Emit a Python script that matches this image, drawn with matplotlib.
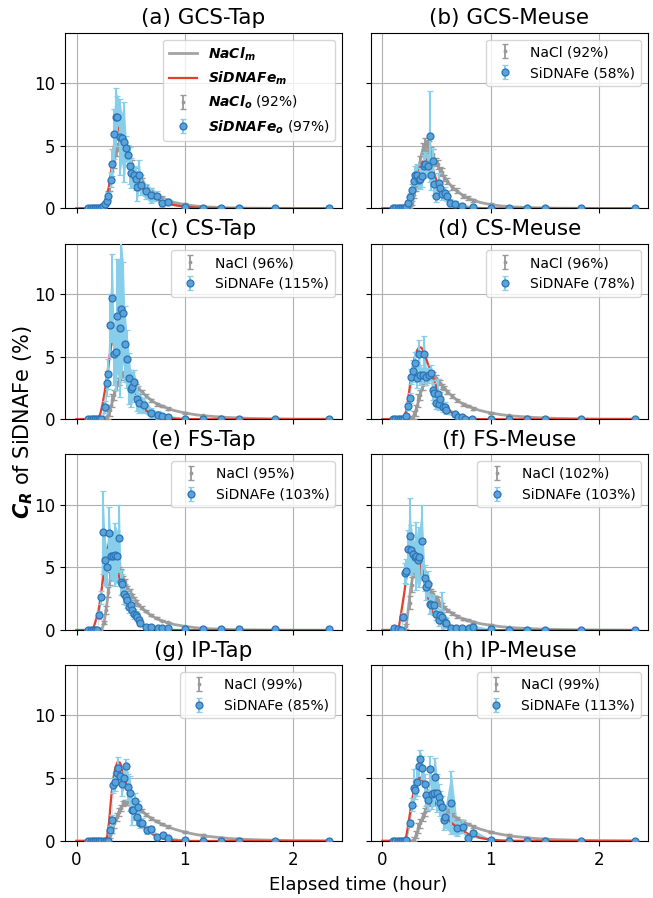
import matplotlib
matplotlib.use('Agg')
import matplotlib.pyplot as plt
import numpy as np

# ---------------- data ----------------
titles = ['(a) GCS-Tap', '(b) GCS-Meuse', '(c) CS-Tap', '(d) CS-Meuse',
          '(e) FS-Tap', '(f) FS-Meuse', '(g) IP-Tap', '(h) IP-Meuse']
nacl_pct = [92, 92, 96, 96, 95, 102, 99, 99]
si_pct = [97, 58, 115, 78, 103, 103, 85, 113]

# model time grid (hour)
t_model = [0.00, 0.10, 0.15, 0.20, 0.22, 0.24, 0.26, 0.28, 0.30, 0.32, 0.34, 0.36,
           0.38, 0.40, 0.42, 0.44, 0.46, 0.48, 0.50, 0.53, 0.56, 0.60, 0.65, 0.70,
           0.75, 0.80, 0.90, 1.00, 1.10, 1.20, 1.40, 1.60, 1.80, 2.00, 2.35]

# NaCl model curves
nacl_m_ab = [0, 0, 0, 0, 0, 0.02, 0.15, 0.6, 1.4, 2.4, 3.4, 4.3, 4.9, 5.2, 5.1, 4.8, 4.4, 4.0, 3.6,
             3.1, 2.65, 2.15, 1.65, 1.3, 1.0, 0.78, 0.48, 0.3, 0.19, 0.12, 0.05, 0.02, 0.01, 0, 0]
nacl_m_cd = [0, 0, 0, 0, 0, 0, 0.02, 0.15, 0.5, 1.05, 1.7, 2.3, 2.85, 3.25, 3.5, 3.6, 3.55, 3.4, 3.2,
             2.9, 2.6, 2.2, 1.8, 1.45, 1.2, 1.0, 0.7, 0.5, 0.36, 0.26, 0.14, 0.07, 0.04, 0.02, 0.01]
nacl_m_e = [0, 0, 0, 0, 0.02, 0.2, 0.9, 2.1, 3.4, 4.5, 5.1, 5.3, 5.1, 4.8, 4.4, 4.0, 3.6, 3.25, 2.95,
            2.5, 2.15, 1.75, 1.4, 1.1, 0.88, 0.7, 0.45, 0.3, 0.19, 0.12, 0.05, 0.02, 0.01, 0, 0]
nacl_m_f = [0, 0, 0, 0, 0.4, 1.8, 3.3, 4.3, 4.9, 5.15, 5.1, 4.85, 4.45, 4.0, 3.6, 3.25, 2.95, 2.7, 2.45,
            2.15, 1.9, 1.6, 1.3, 1.06, 0.88, 0.74, 0.52, 0.38, 0.27, 0.19, 0.1, 0.05, 0.025, 0.012, 0]
nacl_m_gh = [0, 0, 0, 0, 0, 0, 0, 0, 0.2, 0.7, 1.2, 1.65, 2.1, 2.5, 2.78, 2.96, 3.05, 3.08, 3.05,
             2.9, 2.7, 2.4, 2.05, 1.75, 1.5, 1.28, 0.95, 0.7, 0.52, 0.38, 0.2, 0.11, 0.06, 0.03, 0.01]

# SiDNAFe model curves
si_m_a = [0, 0, 0, 0.01, 0.05, 0.15, 0.45, 1.0, 1.8, 3.0, 4.6, 5.9, 6.45, 6.1, 5.4, 4.8, 4.2, 3.6, 3.1,
          2.5, 2.05, 1.6, 1.2, 0.9, 0.68, 0.5, 0.27, 0.14, 0.07, 0.035, 0.01, 0, 0, 0, 0]
si_m_b = [0, 0, 0, 0, 0.1, 0.35, 0.8, 1.4, 2.0, 2.6, 3.1, 3.5, 3.8, 3.9, 3.85, 3.6, 3.2, 2.7, 2.2,
          1.55, 1.05, 0.6, 0.3, 0.15, 0.07, 0.03, 0.01, 0, 0, 0, 0, 0, 0, 0, 0]
si_m_c = [0, 0, 0, 0.05, 0.45, 1.2, 2.2, 3.4, 4.7, 5.9, 6.8, 7.35, 7.45, 7.1, 6.4, 5.6, 4.6, 3.6, 2.85,
          2.1, 1.5, 1.0, 0.65, 0.4, 0.25, 0.15, 0.05, 0.02, 0.01, 0, 0, 0, 0, 0, 0]
si_m_d = [0, 0, 0, 0.2, 0.7, 1.8, 3.1, 4.2, 5.0, 5.5, 5.75, 5.7, 5.4, 4.9, 4.4, 3.95, 3.5, 3.0, 2.5,
          1.9, 1.35, 0.85, 0.45, 0.22, 0.1, 0.05, 0.01, 0, 0, 0, 0, 0, 0, 0, 0]
si_m_e = [0, 0, 0, 1.4, 2.5, 3.8, 5.0, 6.2, 6.95, 7.1, 6.6, 5.7, 4.8, 4.0, 3.4, 2.9, 2.35, 1.95, 1.6,
          1.15, 0.8, 0.45, 0.15, 0.05, 0.02, 0.01, 0, 0, 0, 0, 0, 0, 0, 0, 0]
si_m_f = [0, 0, 0.15, 2.9, 4.2, 5.4, 6.3, 6.85, 6.85, 6.4, 5.8, 5.0, 4.1, 3.3, 2.6, 2.0, 1.55, 1.15, 0.85,
          0.55, 0.33, 0.15, 0.05, 0.02, 0, 0, 0, 0, 0, 0, 0, 0, 0, 0, 0]
si_m_g = [0, 0, 0, 0, 0, 0, 0, 0.2, 1.5, 3.5, 5.0, 5.9, 6.3, 6.25, 5.8, 5.2, 4.6, 4.0, 3.5,
          2.75, 2.1, 1.45, 0.9, 0.55, 0.32, 0.18, 0.05, 0.01, 0, 0, 0, 0, 0, 0, 0]
si_m_h = [0, 0, 0, 0, 0.4, 1.4, 2.6, 3.6, 4.3, 4.8, 5.05, 4.95, 4.6, 4.25, 3.95, 3.65, 3.35, 3.1, 2.85,
          2.5, 2.15, 1.75, 1.35, 1.0, 0.75, 0.53, 0.25, 0.1, 0.04, 0.015, 0, 0, 0, 0, 0]

# NaCl observations
t_nacl = [0.10, 0.13, 0.16, 0.19, 0.22, 0.25, 0.27, 0.29, 0.31, 0.33, 0.35, 0.37, 0.39, 0.41, 0.43,
          0.45, 0.47, 0.49, 0.51, 0.53, 0.55, 0.57, 0.60, 0.64, 0.69, 0.74, 0.79, 0.84, 1.00, 1.17,
          1.33, 1.50, 1.83, 2.33]
nacl_ab = [0, 0, 0, 0, 0.02, 0.1, 0.4, 1.1, 1.8, 3.0, 3.7, 4.7, 5.1, 5.0, 4.9, 4.5, 4.3, 3.7, 3.5, 3.0,
           2.9, 2.4, 2.2, 1.7, 1.4, 1.0, 0.85, 0.65, 0.32, 0.15, 0.08, 0.03, 0.01, 0.0]
nacl_ab_err = [0.02, 0.02, 0.02, 0.02, 0.05, 0.1, 0.15, 0.3, 0.4, 0.45, 0.5, 0.5, 0.5, 0.45, 0.45, 0.4,
               0.4, 0.35, 0.35, 0.3, 0.3, 0.25, 0.25, 0.2, 0.2, 0.15, 0.15, 0.12, 0.1, 0.08, 0.06,
               0.04, 0.03, 0.02]
nacl_cd = [0, 0, 0, 0, 0, 0.02, 0.1, 0.35, 0.7, 1.5, 1.9, 2.7, 3.0, 3.4, 3.5, 3.6, 3.5, 3.3, 3.0, 2.9,
           2.6, 2.5, 2.2, 1.85, 1.5, 1.2, 1.05, 0.85, 0.5, 0.3, 0.18, 0.1, 0.04, 0.01]
nacl_cd_err = [0.02, 0.02, 0.02, 0.02, 0.02, 0.05, 0.15, 0.3, 0.45, 0.5, 0.4, 0.35, 0.3, 0.3, 0.25,
               0.25, 0.25, 0.2, 0.2, 0.2, 0.2, 0.15, 0.15, 0.15, 0.12, 0.12, 0.1, 0.1, 0.08, 0.06,
               0.05, 0.04, 0.03, 0.02]
nacl_e = [0, 0, 0, 0, 0.05, 0.6, 1.6, 3.0, 4.1, 4.6, 5.3, 5.0, 4.7, 4.6, 4.1, 3.9, 3.3, 3.1, 2.7, 2.5,
          2.3, 2.0, 1.8, 1.5, 1.2, 0.95, 0.75, 0.62, 0.3, 0.14, 0.07, 0.03, 0.01, 0]
nacl_e_err = [0.02, 0.02, 0.02, 0.02, 0.05, 0.15, 0.3, 0.4, 0.5, 0.6, 0.4, 0.35, 0.3, 0.3, 0.25, 0.2,
              0.2, 0.15, 0.15, 0.12, 0.12, 0.1, 0.1, 0.08, 0.08, 0.06, 0.06, 0.05, 0.05, 0.04, 0.03,
              0.02, 0.02, 0.01]
nacl_f = [0, 0, 0, 0, 0.3, 2.2, 3.6, 4.7, 5.2, 5.0, 4.8, 4.5, 4.3, 3.7, 3.5, 3.0, 2.9, 2.5, 2.4, 2.1,
          2.0, 1.8, 1.6, 1.35, 1.1, 0.9, 0.8, 0.65, 0.4, 0.22, 0.13, 0.07, 0.03, 0.0]
nacl_f_err = [0.02, 0.02, 0.02, 0.02, 0.2, 0.5, 0.6, 0.5, 0.45, 0.4, 0.35, 0.3, 0.3, 0.3, 0.25, 0.25,
              0.2, 0.2, 0.2, 0.15, 0.15, 0.15, 0.12, 0.12, 0.1, 0.1, 0.08, 0.08, 0.06, 0.05, 0.04,
              0.03, 0.02, 0.02]
nacl_gh = [0, 0, 0, 0, 0, 0, 0.02, 0.15, 0.5, 1.0, 1.4, 1.9, 2.3, 2.6, 3.0, 3.05, 3.1, 3.05, 3.05, 2.9,
           2.75, 2.6, 2.4, 2.1, 1.8, 1.6, 1.35, 1.15, 0.7, 0.45, 0.25, 0.15, 0.05, 0.01]
nacl_gh_err = [0.02, 0.02, 0.02, 0.02, 0.02, 0.02, 0.05, 0.15, 0.3, 0.4, 0.35, 0.3, 0.3, 0.25, 0.2,
               0.2, 0.2, 0.2, 0.2, 0.15, 0.15, 0.15, 0.12, 0.12, 0.1, 0.1, 0.1, 0.1, 0.08, 0.1, 0.06,
               0.05, 0.03, 0.02]

# SiDNAFe observations
t_a = [0.11, 0.13, 0.15, 0.17, 0.19, 0.21, 0.23, 0.247, 0.263, 0.278, 0.293, 0.315, 0.33, 0.346, 0.361,
       0.377, 0.401, 0.417, 0.438, 0.457, 0.475, 0.494, 0.506, 0.531, 0.546, 0.56, 0.577, 0.593, 0.64,
       0.685, 0.74, 0.793, 0.846, 1.0, 1.167, 1.333, 1.5, 1.833, 2.333]
si_a = [0, 0, 0, 0, 0, 0, 0.05, 0.2, 0.35, 0.58, 0.97, 2.3, 3.57, 5.95, 7.28, 7.28, 5.7, 5.6, 5.3, 4.8,
        4.28, 3.41, 2.8, 2.64, 2.38, 1.72, 2.64, 1.9, 1.37, 1.05, 0.97, 0.44, 0.5, 0.1, 0.05, 0.02, 0.02,
        0.01, 0.01]
si_a_err = [0.02, 0.02, 0.02, 0.02, 0.02, 0.02, 0.05, 0.1, 0.15, 0.25, 0.3, 0.6, 1.2, 2.0, 2.3, 1.7,
            3.0, 2.0, 3.2, 1.0, 0.8, 1.5, 1.2, 0.7, 0.9, 1.1, 1.2, 0.8, 0.6, 0.6, 0.4, 0.3, 0.2, 0.05,
            0.05, 0.05, 0.05, 0.05, 0.05]

t_b = [0.10, 0.12, 0.14, 0.16, 0.18, 0.20, 0.22, 0.24, 0.255, 0.27, 0.287, 0.302, 0.318, 0.333, 0.349,
       0.364, 0.38, 0.395, 0.417, 0.435, 0.45, 0.466, 0.478, 0.497, 0.519, 0.534, 0.549, 0.574, 0.595,
       0.627, 0.673, 0.735, 0.836, 1.0, 1.167, 1.333, 1.5, 1.833, 2.333]
si_b = [0, 0, 0, 0, 0, 0, 0.15, 0.45, 0.9, 1.45, 2.17, 2.7, 2.7, 2.3, 2.38, 2.57, 3.36, 3.5, 3.41, 5.74,
        2.67, 3.76, 1.96, 0.98, 2.0, 1.6, 1.16, 1.24, 0.98, 0.45, 0.35, 0.19, 0.1, 0.05, 0.02, 0.02, 0.02,
        0.02, 0.02]
si_b_err = [0.02, 0.02, 0.02, 0.02, 0.02, 0.02, 0.1, 0.2, 0.3, 0.5, 0.6, 0.7, 0.8, 0.7, 0.8, 0.9, 0.9,
            1.0, 0.9, 3.6, 1.2, 1.0, 0.9, 0.5, 0.8, 0.6, 0.5, 0.5, 0.4, 0.3, 0.2, 0.15, 0.1, 0.05, 0.05,
            0.05, 0.05, 0.05, 0.05]

t_c = [0.11, 0.13, 0.15, 0.17, 0.19, 0.21, 0.23, 0.26, 0.278, 0.29, 0.309, 0.33, 0.346, 0.361, 0.377,
       0.40, 0.413, 0.432, 0.444, 0.463, 0.485, 0.50, 0.515, 0.53, 0.56, 0.58, 0.62, 0.69, 0.75, 0.79,
       0.84, 1.0, 1.167, 1.333, 1.5, 1.833, 2.333]
si_c = [0, 0, 0, 0, 0, 0, 0.05, 0.98, 2.85, 3.6, 7.5, 9.66, 5.2, 5.35, 8.25, 7.3, 8.8, 8.5, 6.0, 4.8,
        3.25, 2.45, 2.57, 2.96, 1.65, 1.26, 1.1, 0.5, 0.32, 0.24, 0.19, 0.05, 0.02, 0.02, 0.02, 0.02,
        0.02]
si_c_err = [0.02, 0.02, 0.02, 0.02, 0.02, 0.02, 0.05, 0.5, 1.0, 1.2, 2.5, 3.5, 2.5, 3.0, 4.5, 5.5, 5.5,
            4.0, 3.0, 2.3, 2.0, 1.5, 1.2, 1.0, 1.0, 0.8, 0.6, 0.4, 0.3, 0.2, 0.15, 0.05, 0.05, 0.05,
            0.05, 0.05, 0.05]

t_d = [0.10, 0.12, 0.14, 0.16, 0.18, 0.20, 0.22, 0.235, 0.25, 0.266, 0.28, 0.30, 0.32, 0.333, 0.35,
       0.37, 0.385, 0.404, 0.426, 0.444, 0.463, 0.48, 0.49, 0.51, 0.52, 0.53, 0.556, 0.575, 0.59, 0.67,
       0.70, 0.73, 0.76, 0.83, 1.0, 1.167, 1.333, 1.5, 1.833, 2.333]
si_d = [0, 0, 0, 0, 0, 0, 0.25, 1.05, 1.7, 3.4, 3.85, 4.45, 3.3, 5.2, 3.5, 3.5, 5.2, 3.4, 3.5, 3.7, 2.3,
        2.1, 1.3, 2.0, 1.2, 1.6, 1.0, 1.0, 0.7, 0.4, 0.2, 0.15, 0.05, 0.05, 0.02, 0.02, 0.02, 0.02, 0.02,
        0.02]
si_d_err = [0.02, 0.02, 0.02, 0.02, 0.02, 0.02, 0.1, 0.3, 0.4, 0.6, 0.9, 0.9, 0.8, 1.1, 0.8, 0.6, 1.4,
            0.7, 0.6, 0.6, 0.8, 0.8, 0.5, 1.2, 0.5, 0.6, 0.4, 0.4, 0.3, 0.2, 0.15, 0.1, 0.05, 0.05,
            0.05, 0.05, 0.05, 0.05, 0.05, 0.05]

t_e = [0.11, 0.13, 0.15, 0.17, 0.19, 0.207, 0.222, 0.244, 0.262, 0.278, 0.30, 0.315, 0.34, 0.355,
       0.377, 0.395, 0.41, 0.42, 0.44, 0.455, 0.47, 0.485, 0.50, 0.515, 0.53, 0.546, 0.56, 0.577, 0.59,
       0.64, 0.685, 0.75, 0.79, 0.84, 1.0, 1.167, 1.333, 1.5, 1.833, 2.333]
si_e = [0, 0, 0, 0, 0, 1.2, 2.6, 7.8, 5.6, 5.0, 7.7, 5.9, 5.9, 6.0, 5.9, 7.3, 3.8, 3.7, 2.9, 2.6, 2.4,
        1.85, 2.0, 1.6, 1.3, 1.2, 1.05, 0.8, 0.55, 0.26, 0.26, 0.2, 0.18, 0.13, 0.08, 0.05, 0.05, 0.05,
        0.05, 0.05]
si_e_err = [0.02, 0.02, 0.02, 0.02, 0.02, 0.3, 0.5, 3.3, 2.0, 1.5, 2.1, 1.8, 2.0, 2.5, 2.0, 2.7, 1.0,
            0.8, 0.8, 0.6, 0.6, 0.5, 0.5, 0.4, 0.4, 0.3, 0.3, 0.25, 0.2, 0.15, 0.1, 0.1, 0.08, 0.05,
            0.05, 0.05, 0.05, 0.05, 0.05, 0.05]

t_f = [0.11, 0.14, 0.17, 0.19, 0.204, 0.22, 0.235, 0.25, 0.265, 0.28, 0.296, 0.31, 0.327, 0.34, 0.364,
       0.389, 0.404, 0.42, 0.435, 0.45, 0.475, 0.497, 0.52, 0.534, 0.55, 0.574, 0.59, 0.636, 0.68, 0.73,
       0.80, 0.84, 1.0, 1.167, 1.333, 1.5, 1.833, 2.333]
si_f = [0.2, 0.1, 0.0, 1.06, 4.55, 4.7, 6.5, 7.5, 6.4, 6.1, 5.8, 5.9, 5.6, 5.8, 7.1, 4.15, 3.4, 3.7,
        2.06, 2.0, 2.0, 1.3, 0.8, 1.2, 1.06, 0.66, 0.53, 0.19, 0.2, 0.13, 0.13, 0.26, 0.05, 0.02, 0.02,
        0.02, 0.02, 0.02]
si_f_err = [0.1, 0.1, 0.05, 0.3, 0.8, 1.0, 1.5, 3.0, 2.0, 1.5, 1.2, 2.7, 1.5, 2.4, 2.9, 1.0, 1.0, 1.0,
            0.8, 0.6, 0.8, 0.5, 0.5, 0.5, 2.0, 0.4, 0.4, 0.2, 0.15, 0.1, 0.1, 0.15, 0.05, 0.05, 0.05,
            0.05, 0.05, 0.05]

t_g = [0.11, 0.13, 0.15, 0.17, 0.19, 0.21, 0.23, 0.25, 0.27, 0.29, 0.31, 0.324, 0.336, 0.355, 0.37,
       0.383, 0.398, 0.417, 0.438, 0.46, 0.478, 0.494, 0.51, 0.525, 0.54, 0.555, 0.571, 0.583, 0.60,
       0.65, 0.69, 0.747, 0.797, 0.84, 1.0, 1.167, 1.333, 1.5, 1.833, 2.333]
si_g = [0, 0, 0, 0, 0, 0, 0, 0, 0, 0.02, 0.87, 1.7, 4.45, 4.7, 5.4, 5.85, 5.2, 4.5, 5.0, 6.0, 4.3, 3.8,
        2.5, 2.5, 3.2, 1.9, 2.7, 1.45, 1.45, 0.87, 0.93, 0.29, 0.45, 0.26, 0.08, 0.03, 0.02, 0.02, 0.02,
        0.02]
si_g_err = [0.02, 0.02, 0.02, 0.02, 0.02, 0.02, 0.02, 0.02, 0.02, 0.05, 0.3, 0.4, 0.6, 0.7, 0.6, 0.85,
            0.7, 0.9, 0.8, 0.5, 1.0, 1.4, 1.2, 0.8, 0.6, 0.6, 0.5, 0.4, 0.4, 0.3, 0.3, 0.2, 0.2, 0.1,
            0.05, 0.05, 0.05, 0.05, 0.05, 0.05]

t_h = [0.10, 0.12, 0.14, 0.16, 0.18, 0.20, 0.22, 0.25, 0.27, 0.287, 0.30, 0.318, 0.333, 0.349, 0.364,
       0.389, 0.404, 0.42, 0.435, 0.457, 0.472, 0.488, 0.503, 0.52, 0.534, 0.55, 0.565, 0.58, 0.636,
       0.688, 0.74, 0.79, 0.84, 1.0, 1.167, 1.333, 1.5, 1.833, 2.333]
si_h = [0, 0, 0, 0, 0, 0, 0.05, 1.4, 2.9, 4.26, 4.05, 4.7, 5.95, 6.53, 5.85, 4.5, 3.65, 3.25, 5.7, 3.75,
        3.8, 5.1, 3.8, 3.5, 3.0, 2.7, 1.67, 1.93, 3.04, 1.0, 1.14, 0.2, 0.6, 0.08, 0.03, 0.02, 0.02,
        0.02, 0.02]
si_h_err = [0.02, 0.02, 0.02, 0.02, 0.02, 0.02, 0.1, 0.3, 0.5, 1.5, 0.7, 1.1, 0.8, 0.7, 0.9, 0.8, 0.9,
            0.8, 1.1, 1.2, 1.0, 1.5, 1.5, 1.0, 1.0, 0.9, 0.8, 0.9, 2.5, 0.6, 0.5, 0.2, 0.3, 0.05, 0.05,
            0.05, 0.05, 0.05, 0.05]

nacl_model_sets = [nacl_m_ab, nacl_m_ab, nacl_m_cd, nacl_m_cd, nacl_m_e, nacl_m_f, nacl_m_gh, nacl_m_gh]
si_model_sets = [si_m_a, si_m_b, si_m_c, si_m_d, si_m_e, si_m_f, si_m_g, si_m_h]
nacl_obs_sets = [(nacl_ab, nacl_ab_err), (nacl_ab, nacl_ab_err), (nacl_cd, nacl_cd_err),
                 (nacl_cd, nacl_cd_err), (nacl_e, nacl_e_err), (nacl_f, nacl_f_err),
                 (nacl_gh, nacl_gh_err), (nacl_gh, nacl_gh_err)]
si_obs_sets = [(t_a, si_a, si_a_err), (t_b, si_b, si_b_err), (t_c, si_c, si_c_err),
               (t_d, si_d, si_d_err), (t_e, si_e, si_e_err), (t_f, si_f, si_f_err),
               (t_g, si_g, si_g_err), (t_h, si_h, si_h_err)]

# ---------------- plot ----------------
fig, axes = plt.subplots(4, 2, figsize=(6.53, 8.98), dpi=100, sharex=True, sharey=True)
fig.subplots_adjust(left=0.0995, right=0.992, top=0.9636, bottom=0.0635, hspace=0.2, wspace=0.105)

GRAY_LINE = '#a3a3a3'
GRAY_OBS = '#999999'
RED = '#e2402b'
BAND = '#87ceeb'

for i, ax in enumerate(axes.flat):
    ts, vs, es = si_obs_sets[i]
    ts = np.array(ts); vs = np.array(vs); es = np.array(es)
    nv, ne = nacl_obs_sets[i]
    ax.set_axisbelow(True)
    ax.grid(True, color='#b0b0b0', lw=0.8)
    ax.fill_between(ts, vs - es, vs + es, color=BAND, alpha=0.95, lw=0, zorder=1)
    if i == 0:
        lab_nm = r'$\mathbfit{NaCl}_{\mathbfit{m}}$'
        lab_sm = r'$\mathbfit{SiDNAFe}_{\mathbfit{m}}$'
        lab_no = r'$\mathbfit{NaCl}_{\mathbfit{o}}$ (%d%%)' % nacl_pct[i]
        lab_so = r'$\mathbfit{SiDNAFe}_{\mathbfit{o}}$ (%d%%)' % si_pct[i]
    else:
        lab_nm = None
        lab_sm = None
        lab_no = 'NaCl (%d%%)' % nacl_pct[i]
        lab_so = 'SiDNAFe (%d%%)' % si_pct[i]
    ax.plot(t_model, nacl_model_sets[i], color=GRAY_LINE, lw=2.0, zorder=2, label=lab_nm)
    ax.plot(t_model, si_model_sets[i], color=RED, lw=1.6, zorder=3.2, label=lab_sm)
    ax.errorbar(t_nacl, nv, yerr=ne, fmt='.', color=GRAY_OBS, ms=3.5, capsize=2,
                elinewidth=1.3, capthick=1.0, zorder=3, label=lab_no)
    ax.errorbar(ts, vs, yerr=es, fmt='o', ms=5, mfc='#5aa3d8', mec='#2b73b6', mew=0.9,
                ecolor='#87ceeb', elinewidth=1.5, capsize=2, capthick=1.0, zorder=4, label=lab_so)
    ax.set_title(titles[i], fontsize=15.5)
    ax.set_xlim(-0.107, 2.45)
    ax.set_ylim(0, 14)
    ax.set_xticks([0, 1, 2])
    ax.set_yticks([0, 5, 10])
    ax.tick_params(labelsize=12)
    ax.legend(loc='upper right', fontsize=10, framealpha=0.8)

fig.text(0.036, 0.53, r'$\mathbfit{C}_{\mathbfit{R}}$ of SiDNAFe (%)', rotation=90,
         ha='center', va='center', fontsize=15)
fig.text(0.548, 0.014, 'Elapsed time (hour)', ha='center', va='center', fontsize=13)

fig.savefig('out.png', dpi=100)
